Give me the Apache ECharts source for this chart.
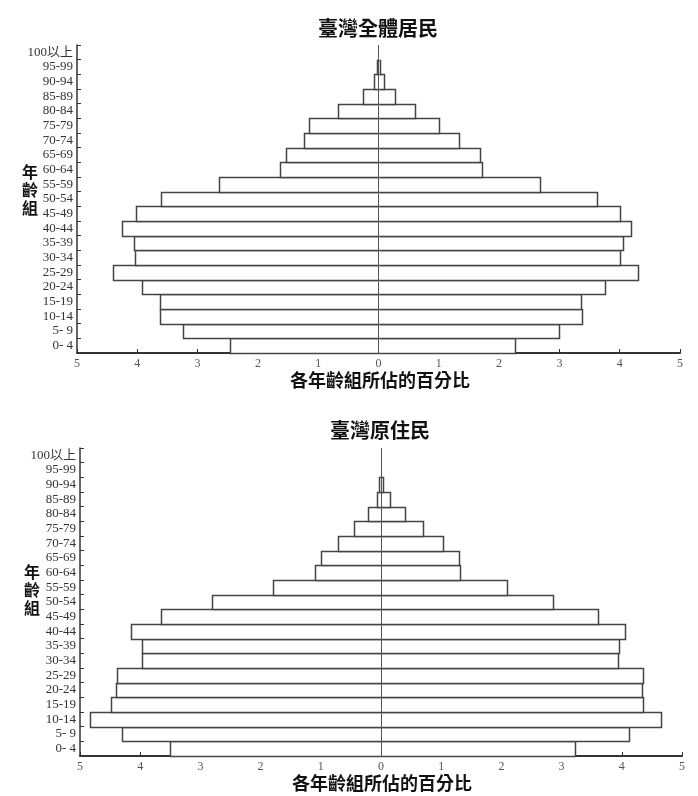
<!DOCTYPE html>
<html>
<head>
<meta charset="utf-8">
<script src="https://cdn.jsdelivr.net/npm/echarts@6/dist/echarts.min.js"></script>
<style>
html,body{margin:0;padding:0;background:#fff;}
#main{width:698px;height:796px;}
</style>
</head>
<body>
<div id="main"></div>
<script>
// Age groups, listed bottom to top
const ageGroups = ['0- 4','5- 9','10-14','15-19','20-24','25-29','30-34','35-39','40-44','45-49','50-54','55-59','60-64','65-69','70-74','75-79','80-84','85-89','90-94','95-99','100以上'];
const xTicks = [5,4,3,2,1,0,1,2,3,4,5];

// 臺灣全體居民 — left side and right side (% of population)
const allLeft  = [2.47,3.24,3.63,3.62,3.93,4.40,4.03,4.05,4.25,4.02,3.60,2.64,1.64,1.53,1.23,1.15,0.67,0.26,0.07,0.03,0];
const allRight = [2.27,2.99,3.37,3.35,3.75,4.31,4.00,4.06,4.18,4.00,3.62,2.68,1.72,1.69,1.34,1.01,0.61,0.28,0.09,0.03,0];

// 臺灣原住民 — left side and right side (% of population)
const aboLeft  = [3.51,4.31,4.84,4.49,4.40,4.38,3.97,3.97,4.15,3.65,2.81,1.80,1.09,0.99,0.72,0.45,0.21,0.07,0.04,0,0];
const aboRight = [3.22,4.12,4.65,4.35,4.34,4.36,3.94,3.96,4.05,3.61,2.86,2.09,1.32,1.29,1.03,0.70,0.40,0.15,0.03,0,0];

const titles = ['臺灣全體居民','臺灣原住民'];
const xName = '各年齡組所佔的百分比';
const yName = '年\n齡\n組';

const serif = '"Liberation Serif","DejaVu Serif","Noto Sans CJK TC",serif';
const cjk = '"Noto Sans CJK TC","Noto Sans CJK SC",sans-serif';

const chart = echarts.init(document.getElementById('main'));

function xAxisFor(gi){
  return {
    gridIndex: gi, type: 'value', min: -5, max: 5, interval: 1,
    axisLine: {show: true, onZero: false, lineStyle: {color: '#333', width: 2}},
    axisTick: {show: true, inside: true, length: 4, lineStyle: {color: '#333', width: 1}},
    axisLabel: {
      formatter: v => String(xTicks[Math.round(v) + 5]),
      color: '#555', fontFamily: serif, fontSize: 12, margin: 5
    },
    splitLine: {show: false}
  };
}
function yAxisFor(gi){
  return {
    gridIndex: gi, type: 'category', data: ageGroups, boundaryGap: true,
    axisLine: {show: true, onZero: false, lineStyle: {color: '#333', width: 1.5}},
    axisTick: {show: true, inside: true, length: 4, interval: 0, lineStyle: {color: '#333'}},
    axisLabel: {color: '#333', fontFamily: serif, fontSize: 13, margin: 4, interval: 0},
    splitLine: {show: false}
  };
}

function renderBar(params, api){
  const cat = api.value(1);
  const v = api.value(0);
  if (!v) return null;
  const p0 = api.coord([0, cat]);
  const p1 = api.coord([v, cat]);
  const h = api.size([0, 1])[1];
  const yT = Math.round(p0[1] - h / 2) + 0.5;
  const yB = Math.round(p0[1] + h / 2) + 0.5;
  const x0 = Math.round(p0[0]) + 0.5;
  const x1 = Math.round(p1[0]) + 0.5;
  return {
    type: 'group',
    children: [
      {type: 'rect', shape: {x: Math.min(x0, x1), y: yT, width: Math.abs(x1 - x0), height: yB - yT},
       style: {fill: '#fff'}},
      {type: 'polyline', shape: {points: [[x0, yT], [x1, yT], [x1, yB], [x0, yB]]},
       style: {fill: null, stroke: '#444', lineWidth: 1.5}}
    ]
  };
}

function barsFor(gi, left, right){
  const mk = (arr, sign) => ({
    type: 'custom', xAxisIndex: gi, yAxisIndex: gi, z: 2,
    renderItem: renderBar, encode: {x: 0, y: 1}, silent: true, animation: false,
    data: arr.map((v, i) => [sign * v, i])
  });
  return [
    mk(left, -1),
    mk(right, 1),
    {
      type: 'bar', xAxisIndex: gi, yAxisIndex: gi, data: [], z: 5, silent: true, animation: false,
      markLine: {
        silent: true, symbol: 'none', label: {show: false},
        lineStyle: {color: '#555', width: 1, type: 'solid'},
        data: [{xAxis: 0}], animation: false
      }
    }
  ];
}

const option = {
  backgroundColor: '#fff',
  animation: false,
  grid: [
    {left: 77, right: 18, top: 45, height: 308},
    {left: 80, right: 16, top: 448, height: 308}
  ],
  xAxis: [xAxisFor(0), xAxisFor(1)],
  yAxis: [yAxisFor(0), yAxisFor(1)],
  series: [].concat(barsFor(0, allLeft, allRight), barsFor(1, aboLeft, aboRight)),
  graphic: [
    {type: 'text', x: 378, y: 28, style: {text: titles[0], font: 'bold 20px ' + cjk, fill: '#111', align: 'center', verticalAlign: 'middle'}},
    {type: 'text', x: 380, y: 430, style: {text: titles[1], font: 'bold 20px ' + cjk, fill: '#111', align: 'center', verticalAlign: 'middle'}},
    {type: 'text', x: 380, y: 380, style: {text: xName, font: 'bold 18px ' + cjk, fill: '#111', align: 'center', verticalAlign: 'middle'}},
    {type: 'text', x: 382, y: 783, style: {text: xName, font: 'bold 18px ' + cjk, fill: '#111', align: 'center', verticalAlign: 'middle'}},
    {type: 'text', x: 30, y: 190, style: {text: yName, font: 'bold 16px ' + cjk, fill: '#111', align: 'center', verticalAlign: 'middle', lineHeight: 18}},
    {type: 'text', x: 32, y: 590, style: {text: yName, font: 'bold 16px ' + cjk, fill: '#111', align: 'center', verticalAlign: 'middle', lineHeight: 18}}
  ]
};
chart.setOption(option);
</script>
</body>
</html>
